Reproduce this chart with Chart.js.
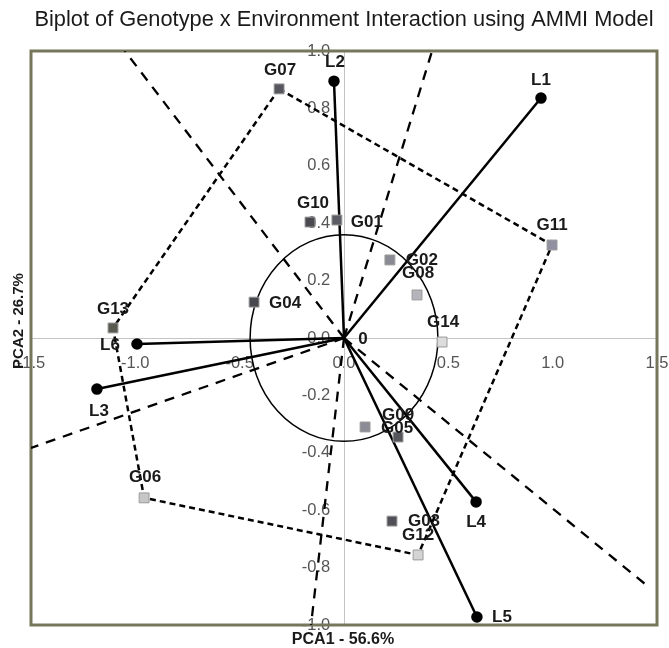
<!DOCTYPE html>
<html>
<head>
<meta charset="utf-8">
<script src="https://cdn.jsdelivr.net/npm/chart.js@4.4.1/dist/chart.umd.min.js"></script>
<style>
  html, body { margin: 0; padding: 0; background: #ffffff; }
  canvas { display: block; }
</style>
</head>
<body>
<canvas id="c" width="669" height="648"></canvas>
<script>
// ---------------- data ----------------
const chartTitle = 'Biplot of Genotype x Environment Interaction using AMMI Model';
const xTitle = 'PCA1 - 56.6%';
const yTitle = 'PCA2 - 26.7%';

// environment vectors (locations)
const envNames = ['L1', 'L2', 'L3', 'L4', 'L5', 'L6'];
const envPC1   = [0.944, -0.048, -1.184, 0.633, 0.637, -0.992];
const envPC2   = [0.836, 0.895, -0.178, -0.571, -0.972, -0.021];

// genotype scores
const genoNames = ['G01','G02','G03','G04','G05','G06','G07','G08','G09','G10','G11','G12','G13','G14'];
const genoPC1   = [-0.034, 0.220, 0.230, -0.431, 0.101, -0.958, -0.311, 0.350, 0.259, -0.163, 0.997, 0.355, -1.107, 0.470];
const genoPC2   = [0.411, 0.272, -0.638, 0.125, -0.310, -0.557, 0.868, 0.150, -0.345, 0.404, 0.324, -0.756, 0.035, -0.014];

// polygon (convex hull) vertices, in drawing order
const hullOrder = ['G07', 'G11', 'G12', 'G06', 'G13'];

// sector lines from the origin: end points
const sectorEndPC1 = [-1.050, 0.422, 1.466, -0.158, -1.500];
const sectorEndPC2 = [1.000, 1.000, -0.871, -1.000, -0.383];

// reference ring around the origin (PC1 radius, PC2 radius)
const ringRadius = [0.45, 0.36];

// axis ranges / ticks
const xRange = [-1.5, 1.5]; const xStep = 0.5;
const yRange = [-1.0, 1.0]; const yStep = 0.2;

// ---------------- styles (kept apart from the data) ----------------
const genoFill = ['#5c5c64','#8a8a94','#505058','#48484f','#8c8c96','#c6c6c6','#56565e','#b4b4ba','#55555c','#4a4a50','#9090a0','#d4d4d4','#5a5a50','#dcdcdc'];
const genoLabelOffset = {
  G01: [30, 2],  G02: [32, 0],  G03: [32, 0],  G04: [31, 1],  G05: [32, 1],
  G06: [1, -21], G07: [1, -19], G08: [1, -22], G09: [0, -22], G10: [3, -19],
  G11: [0, -20], G12: [0, -20], G13: [0, -19], G14: [1, -20]
};
const envLabelOffset = {
  L1: [0, -18], L2: [1, -19], L3: [2, 22], L4: [0, 20], L5: [25, 0], L6: [-27, 1]
};
const FONT = '"Liberation Sans", Arial, Helvetica, sans-serif';

// ---------------- datasets built from the arrays ----------------
const datasets = [];

// sector lines
sectorEndPC1.forEach((x, i) => {
  datasets.push({
    type: 'scatter', showLine: true,
    data: [{x: 0, y: 0}, {x: x, y: sectorEndPC2[i]}],
    borderColor: '#000', borderWidth: 2.3, borderDash: [10, 8],
    pointRadius: 0, order: 5
  });
});

// polygon
const hullPts = hullOrder.concat([hullOrder[0]]).map(n => {
  const k = genoNames.indexOf(n);
  return {x: genoPC1[k], y: genoPC2[k]};
});
datasets.push({
  type: 'scatter', showLine: true, data: hullPts,
  borderColor: '#000', borderWidth: 2.5, borderDash: [6, 4],
  pointRadius: 0, order: 4
});

// environment vectors
envNames.forEach((n, i) => {
  datasets.push({
    type: 'scatter', showLine: true,
    data: [{x: 0, y: 0}, {x: envPC1[i], y: envPC2[i]}],
    borderColor: '#000', borderWidth: 2.5,
    pointRadius: [0, 4.5], pointBackgroundColor: '#000', pointBorderColor: '#000',
    order: 3
  });
});

// genotypes
datasets.push({
  type: 'scatter',
  data: genoNames.map((n, i) => ({x: genoPC1[i], y: genoPC2[i]})),
  pointStyle: 'rect', pointRadius: 7,
  pointBackgroundColor: genoFill,
  pointBorderColor: '#9a9a9a', pointBorderWidth: 1,
  order: 1
});

// ---------------- plugins ----------------
const decor = {
  id: 'decor',
  beforeDatasetsDraw(chart) {
    const {ctx, chartArea: a, scales: {x, y}} = chart;
    const cx = x.getPixelForValue(0), cy = y.getPixelForValue(0);
    const rx = Math.abs(x.getPixelForValue(ringRadius[0]) - cx);
    const ry = Math.abs(y.getPixelForValue(ringRadius[1]) - cy);
    ctx.save();
    ctx.strokeStyle = '#000'; ctx.lineWidth = 1.5;
    ctx.beginPath(); ctx.ellipse(cx, cy, rx, ry, 0, 0, Math.PI * 2); ctx.stroke();
    ctx.strokeStyle = '#76765a'; ctx.lineWidth = 3;
    ctx.strokeRect(a.left, a.top, a.right - a.left, a.bottom - a.top);
    ctx.restore();
  },
  afterDatasetsDraw(chart) {
    const {ctx, scales: {x, y}} = chart;
    ctx.save();
    ctx.fillStyle = '#1a1a1a';
    ctx.font = 'bold 17px ' + FONT;
    ctx.textAlign = 'center'; ctx.textBaseline = 'middle';
    genoNames.forEach((n, i) => {
      const o = genoLabelOffset[n];
      ctx.fillText(n, x.getPixelForValue(genoPC1[i]) + o[0], y.getPixelForValue(genoPC2[i]) + o[1]);
    });
    envNames.forEach((n, i) => {
      const o = envLabelOffset[n];
      ctx.fillText(n, x.getPixelForValue(envPC1[i]) + o[0], y.getPixelForValue(envPC2[i]) + o[1]);
    });
    ctx.fillText('0', x.getPixelForValue(0) + 19, y.getPixelForValue(0) + 1);
    ctx.restore();
  },
  afterDraw(chart) {
    const {ctx, chartArea: a} = chart;
    ctx.save();
    ctx.fillStyle = '#1a1a1a';
    ctx.textAlign = 'center'; ctx.textBaseline = 'alphabetic';
    ctx.font = '21.8px ' + FONT;
    ctx.fillText(chartTitle, (a.left + a.right) / 2, 26);
    ctx.font = 'bold 16px ' + FONT;
    ctx.textBaseline = 'middle';
    ctx.fillText(xTitle, (a.left + a.right) / 2 - 1, 640);
    ctx.font = 'bold 15px ' + FONT;
    ctx.translate(19, 321);
    ctx.rotate(-Math.PI / 2);
    ctx.fillText(yTitle, 0, 0);
    ctx.restore();
  }
};

new Chart(document.getElementById('c'), {
  type: 'scatter',
  data: { datasets },
  options: {
    responsive: false,
    animation: false,
    devicePixelRatio: 1,
    layout: { padding: { left: 31, top: 51, right: 12, bottom: 23 } },
    plugins: { legend: { display: false }, tooltip: { enabled: false }, title: { display: false } },
    scales: {
      x: {
        type: 'linear', min: xRange[0], max: xRange[1],
        position: { y: 0 },
        grid: { display: false, drawTicks: false },
        border: { display: true, color: '#c4c4c4', width: 1 },
        afterFit(s) { s.paddingLeft = 0; s.paddingRight = 0; },
        ticks: {
          stepSize: xStep, padding: 16, color: '#555',
          font: { family: FONT, size: 16.5 },
          callback: v => Number(v).toFixed(1)
        }
      },
      y: {
        type: 'linear', min: yRange[0], max: yRange[1],
        position: { x: 0 },
        grid: { display: false, drawTicks: false },
        border: { display: true, color: '#c4c4c4', width: 1 },
        afterFit(s) { s.paddingTop = 0; s.paddingBottom = 0; },
        ticks: {
          stepSize: yStep, padding: 13, color: '#555',
          font: { family: FONT, size: 16.5 },
          callback: v => Number(v).toFixed(1) + '\u0020\u0020\u0020'
        }
      }
    }
  },
  plugins: [decor]
});
</script>
</body>
</html>
